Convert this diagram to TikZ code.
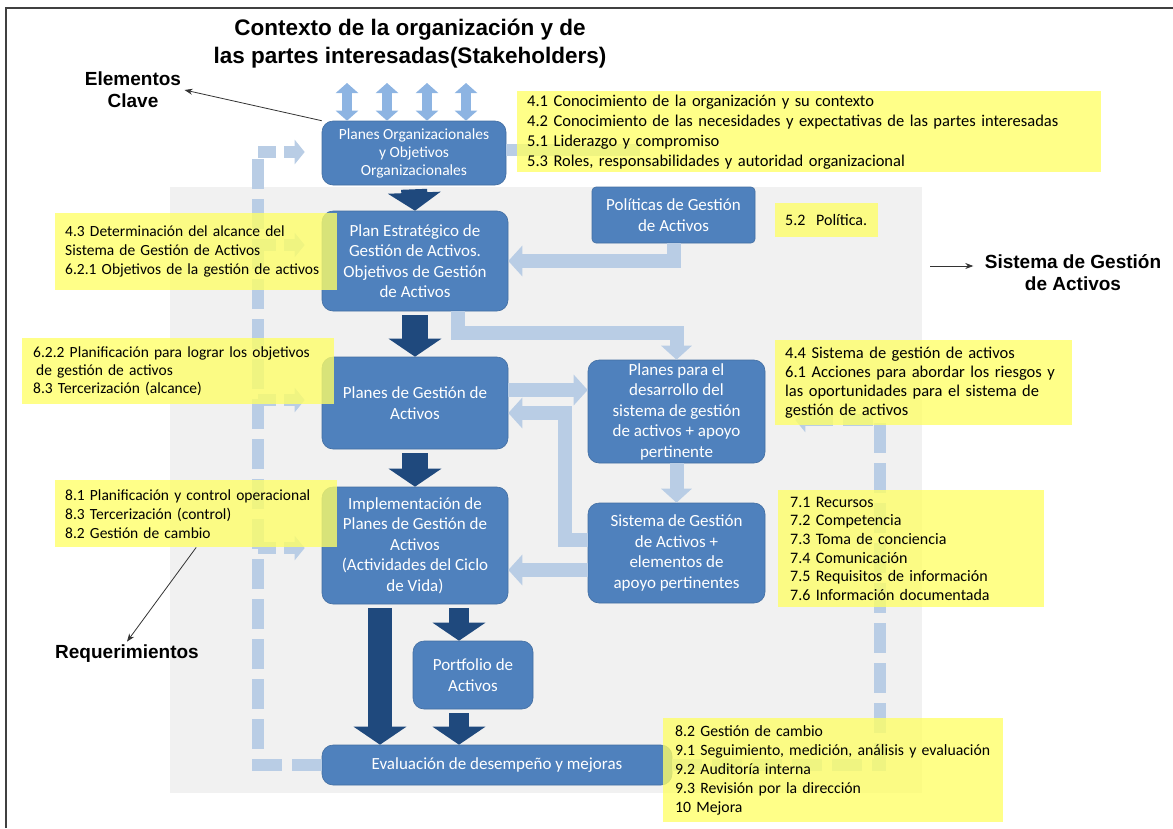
\documentclass[tikz,border=0pt]{standalone}
\usepackage{fontspec}
\setmainfont{Carlito}
\newfontfamily\headfont{Liberation Sans}
\usetikzlibrary{arrows.meta}
\definecolor{boxblue}{HTML}{4F81BD}
\definecolor{flowblue}{HTML}{1F497D}
\definecolor{lightflow}{HTML}{B9CDE5}
\definecolor{ctxblue}{HTML}{8DB4E2}
\definecolor{noteyellow}{HTML}{FFFF66}
\definecolor{panelgray}{HTML}{F1F1F1}

\begin{document}
\begin{tikzpicture}[x=1pt,y=-1pt,
  stage/.style={rounded corners=11pt, fill=boxblue, draw=boxblue!85!black, line width=0.6pt, text=white, align=center, inner sep=0pt, font=\fontsize{17}{20.5}\selectfont},
  clause/.style={anchor=north west, fill=noteyellow, fill opacity=0.78, text opacity=1, align=left, inner xsep=10pt, inner ysep=0pt, font=\fontsize{15.5}{19}\selectfont},
  heading/.style={font=\headfont\bfseries\fontsize{19}{22}\selectfont, align=center},
  flow/.style={draw=flowblue, line width=26pt, shorten <=4pt, -{Triangle[width=52pt,length=18pt]}},
  feed/.style={draw=lightflow, line width=14pt, line join=miter, -{Triangle[width=30pt,length=14pt]}},
  loopdash/.style={draw=lightflow, line width=12pt, dash pattern=on 30pt off 10pt},
  stub/.style={draw=lightflow, line width=12pt, -{Triangle[width=24pt,length=10pt]}},
  stakeholder/.style={draw=ctxblue, line width=10pt, {Triangle[width=22pt,length=10pt]}-{Triangle[width=22pt,length=10pt]}},
  pointer/.style={draw=black!80, line width=0.8pt, -{Stealth[length=8pt,width=6pt]}}]
\useasboundingbox (0,0) rectangle (1173,828);
\fill[panelgray] (170,187) rectangle (922,793);
\draw[line width=1.5pt, black!75] (6,828) -- (6,8) -- (1173,8);

\node[stage, minimum width=184pt, minimum height=64pt, font=\fontsize{15.5}{18}\selectfont] (orgplan) at (414,153) {Planes Organizacionales\\y Objetivos\\Organizacionales};
\node[stage, minimum width=186pt, minimum height=100pt] (strat) at (415,261) {Plan Estratégico de\\Gestión de Activos.\\Objetivos de Gestión\\de Activos};
\node[stage, minimum width=186pt, minimum height=92pt] (plans) at (415,403) {Planes de Gestión de\\Activos};
\node[stage, minimum width=186pt, minimum height=117pt] (impl) at (415,545.5) {Implementación de\\Planes de Gestión de\\Activos\\(Actividades del Ciclo\\de Vida)};
\node[stage, minimum width=120pt, minimum height=68pt] (portf) at (473,675) {Portfolio de\\Activos};
\node[stage, minimum width=350pt, minimum height=40pt] (eval) at (497,765) {Evaluación de desempeño y mejoras};
\node[stage, minimum width=163pt, minimum height=56pt, rounded corners=4pt] (pol) at (673.5,215) {Políticas de Gestión\\de Activos};
\node[stage, minimum width=177pt, minimum height=103pt] (devplan) at (676.5,411.5) {Planes para el\\desarrollo del\\sistema de gestión\\de activos + apoyo\\pertinente};
\node[stage, minimum width=177pt, minimum height=100pt] (sys) at (676.5,553) {Sistema de Gestión\\de Activos +\\elementos de\\apoyo pertinentes};

\foreach \x in {347,387,427,466}
  \draw[stakeholder] (\x,83) -- (orgplan.north -| \x,83);

\draw[flow] (orgplan.south) -- (strat.north);
\draw[flow] (strat.south) -- (plans.north);
\draw[flow] (plans.south) -- (impl.north);
\draw[flow, line width=24pt] ([xshift=-35pt]impl.south) -- ([xshift=-35pt]impl.south |- eval.north);
\draw[flow, line width=20pt] ([xshift=-14pt]portf.north |- impl.south) -- ([xshift=-14pt]portf.north);
\draw[flow, line width=20pt] ([xshift=-14pt]portf.south) -- ([xshift=-14pt]portf.south |- eval.north);

\coordinate (bendA) at (458,333);
\coordinate (bendB) at (565,413);
\coordinate (stubend) at (640,150);
\draw[feed] (pol.south) |- (strat.east);
\draw[feed] (strat.south -| bendA) -- (bendA) -| (devplan.north);
\draw[feed] ([yshift=13pt]plans.east) -- ([yshift=13pt]plans.east -| devplan.west);
\draw[feed] ([yshift=13pt]sys.west) -| (bendB) -- (plans.east |- bendB);
\draw[feed] ([yshift=-17pt]sys.west) -- ([yshift=-17pt]sys.west -| impl.east);
\draw[feed] (devplan.south) -- (sys.north);
\draw[draw=lightflow, line width=12pt] (orgplan.east |- stubend) -- (stubend);

\coordinate (leftTop) at (258,152);
\coordinate (rightTop) at (880,420);
\draw[loopdash] (eval.west) -| (leftTop);
\foreach \stage/\y in {orgplan/152,strat/245,plans/400,impl/548}{
  \draw[loopdash] (258,\y) -- (276,\y);
  \draw[stub, shorten >=17pt] (284,\y) -- (\stage.west |- 284,\y);
}
\draw[loopdash, -{Triangle[width=24pt,length=10pt]}, shorten >=30pt] (eval.east) -| (rightTop) -- (devplan.east |- rightTop);

\node[clause, text width=564pt, minimum height=81pt, font=\fontsize{16.5}{20}\selectfont] (ctxreq) at (517,91) {4.1 Conocimiento de la organización y su contexto\\4.2 Conocimiento de las necesidades y expectativas de las partes interesadas\\5.1 Liderazgo y compromiso\\5.3 Roles, responsabilidades y autoridad organizacional};
\node[clause, text width=83pt, minimum height=34pt, font=\fontsize{16}{19}\selectfont] (polreq) at (775,203) {5.2\ \ Política.};
\node[clause, text width=262pt, minimum height=77pt] (scopereq) at (55,213) {4.3 Determinación del alcance del\\Sistema de Gestión de Activos\\6.2.1 Objetivos de la gestión de activos};
\node[clause, text width=290pt, minimum height=66pt, inner xsep=11pt, font=\fontsize{15.5}{18}\selectfont] (planreq) at (22,338) {6.2.2 Planificación para lograr los objetivos\\\hspace*{3pt}de gestión de activos\\8.3 Tercerización (alcance)};
\node[clause, text width=277pt, minimum height=85pt, font=\fontsize{16.5}{19}\selectfont] (riskreq) at (775,340) {4.4 Sistema de gestión de activos\\6.1 Acciones para abordar los riesgos y\\las oportunidades para el sistema de\\gestión de activos};
\node[clause, text width=262pt, minimum height=67pt] (opreq) at (55,480) {8.1 Planificación y control operacional\\8.3 Tercerización (control)\\8.2 Gestión de cambio};
\node[clause, text width=242pt, minimum height=117pt, inner xsep=12pt, font=\fontsize{16}{18.6}\selectfont] (supreq) at (778,490) {7.1 Recursos\\7.2 Competencia\\7.3 Toma de conciencia\\7.4 Comunicación\\7.5 Requisitos de información\\7.6 Información documentada};
\node[clause, text width=316pt, minimum height=104pt, inner xsep=12pt, font=\fontsize{15.75}{19}\selectfont] (evalreq) at (663,718) {8.2 Gestión de cambio\\9.1 Seguimiento, medición, análisis y evaluación\\9.2 Auditoría interna\\9.3 Revisión por la dirección\\10 Mejora};

\node[heading, font=\headfont\bfseries\fontsize{22.5}{28}\selectfont] (ctx) at (410,44) {Contexto de la organización y de\\las partes interesadas(Stakeholders)};
\node[heading] (elem) at (133,90) {Elementos\\Clave};
\node[heading] (sga) at (1073,273) {Sistema de Gestión\\de Activos};
\node[heading] (req) at (127,654) {Requerimientos};

\coordinate (sgatail) at (930,266);
\draw[pointer] (orgplan.north west) -- (elem.east);
\draw[pointer, shorten >=8pt] (sgatail) -- (sgatail -| sga.west);
\draw[pointer] (opreq.south) -- (req.north);
\end{tikzpicture}
\end{document}
